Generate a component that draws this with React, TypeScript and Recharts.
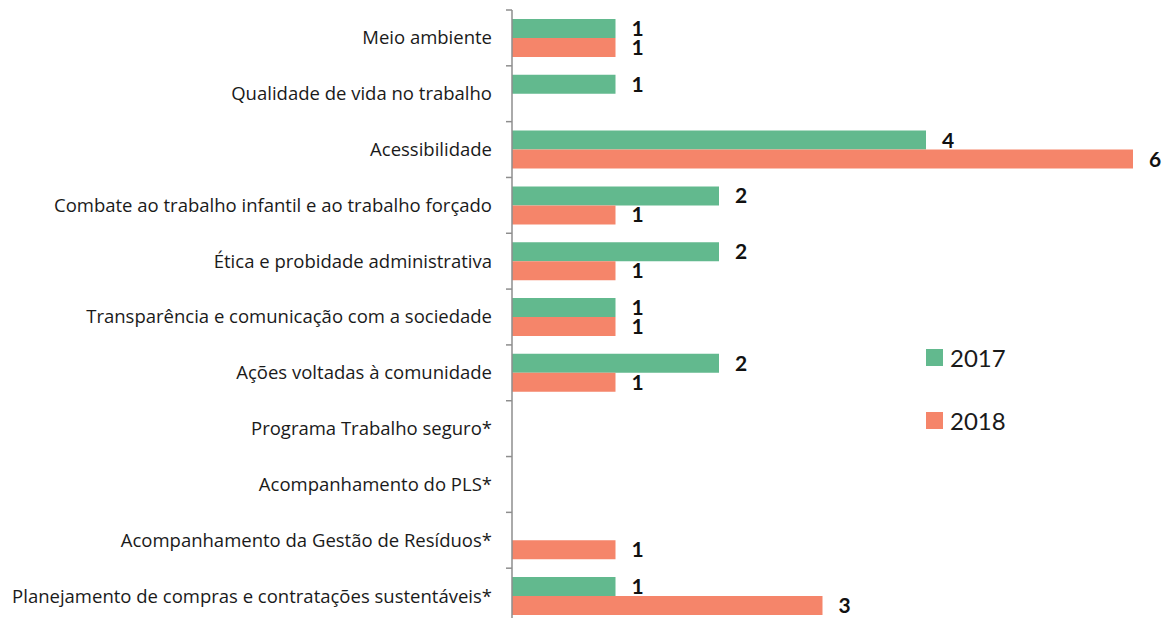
import React from "react";
import { BarChart, Bar, XAxis, YAxis, LabelList } from "recharts";

const categories = [
  "Meio ambiente",
  "Qualidade de vida no trabalho",
  "Acessibilidade",
  "Combate ao trabalho infantil e ao trabalho forçado",
  "Ética e probidade administrativa",
  "Transparência e comunicação com a sociedade",
  "Ações voltadas à comunidade",
  "Programa Trabalho seguro*",
  "Acompanhamento do PLS*",
  "Acompanhamento da Gestão de Resíduos*",
  "Planejamento de compras e contratações sustentáveis*",
];
const values2017: (number | null)[] = [1, 1, 4, 2, 2, 1, 2, null, null, null, 1];
const values2018: (number | null)[] = [1, null, 6, 1, 1, 1, 1, null, null, 1, 3];
const seriesNames = ["2017", "2018"];

const data = categories.map((c, i) => ({
  name: c,
  v2017: values2017[i],
  v2018: values2018[i],
}));

const GREEN = "#62B98E";
const ORANGE = "#F5856A";
const AXIS = "#8E8E8E";
const FONT = "'Open Sans', 'Noto Sans', sans-serif";
const NUM_FONT = "Lato, 'Noto Sans', sans-serif";

const CHART_W = 1172;
const CHART_H = 624;
const MARGIN = { top: 10, right: 39, bottom: 0, left: 0 };
const AXIS_X = 512;
const BAND = (CHART_H - MARGIN.top - MARGIN.bottom) / categories.length;

const CatTick = (props: any) => {
  const { y, payload, index } = props;
  return (
    <g>
      <line x1={AXIS_X - 6} x2={AXIS_X} y1={y - BAND / 2} y2={y - BAND / 2} stroke={AXIS} strokeWidth={1.5} />
      {index === categories.length - 1 && (
        <line x1={AXIS_X - 6} x2={AXIS_X} y1={y + BAND / 2} y2={y + BAND / 2} stroke={AXIS} strokeWidth={1.5} />
      )}
      <text
        x={AXIS_X - 20}
        y={y}
        dy="0.35em"
        textAnchor="end"
        fontFamily={FONT}
        fontSize={18.5}
        fill="#1a1a1a"
      >
        {payload.value}
      </text>
    </g>
  );
};

const LegendBox = () => (
  <div style={{ position: "absolute", left: 926, top: 342, fontFamily: NUM_FONT }}>
    {[GREEN, ORANGE].map((col, i) => (
      <div
        key={i}
        style={{ display: "flex", alignItems: "center", height: 30, marginBottom: i === 0 ? 33 : 0 }}
      >
        <div style={{ width: 17, height: 17, background: col, marginRight: 7 }} />
        <span style={{ fontSize: 24, color: "#1a1a1a" }}>{seriesNames[i]}</span>
      </div>
    ))}
  </div>
);

export default function App() {
  return (
    <div
      style={{
        position: "absolute",
        left: 0,
        top: 0,
        width: CHART_W,
        height: 618,
        overflow: "hidden",
        background: "#fff",
      }}
    >
      <BarChart
        width={CHART_W}
        height={CHART_H}
        data={data}
        layout="vertical"
        margin={MARGIN}
        barCategoryGap="16%"
        barGap={0}
      >
        <XAxis type="number" domain={[0, 6]} hide />
        <YAxis
          type="category"
          dataKey="name"
          width={AXIS_X}
          axisLine={{ stroke: AXIS, strokeWidth: 1.5 }}
          tickLine={false}
          tick={<CatTick />}
          interval={0}
        />
        <Bar dataKey="v2017" fill={GREEN} isAnimationActive={false}>
          <LabelList
            dataKey="v2017"
            position="right"
            offset={16}
            fill="#111"
            fontFamily={NUM_FONT}
            fontWeight="bold"
            fontSize={21}
          />
        </Bar>
        <Bar dataKey="v2018" fill={ORANGE} isAnimationActive={false}>
          <LabelList
            dataKey="v2018"
            position="right"
            offset={16}
            fill="#111"
            fontFamily={NUM_FONT}
            fontWeight="bold"
            fontSize={21}
          />
        </Bar>
      </BarChart>
      <LegendBox />
    </div>
  );
}
